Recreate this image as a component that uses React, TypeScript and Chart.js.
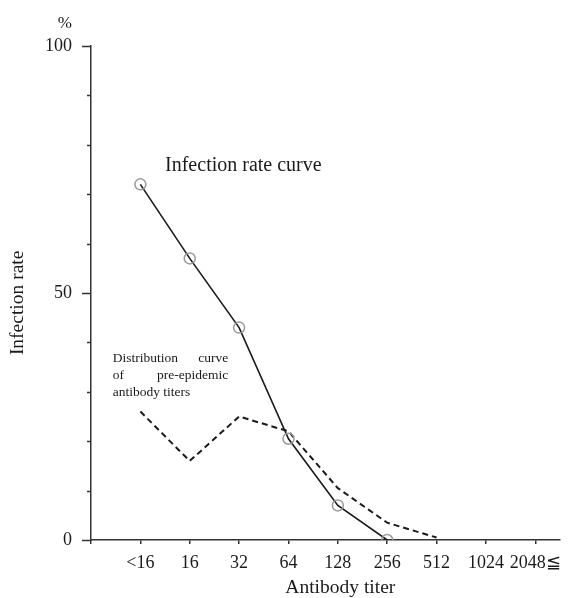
import React, { useEffect, useRef } from 'react';
import { Chart, registerables } from 'chart.js';

Chart.register(...registerables);

const titerLabels = ['<16', '16', '32', '64', '128', '256', '512', '1024', '2048≦'];
const infectionRate = [72, 57, 43, 20.5, 7, 0];
const distribution = [26, 16, 25, 22, 10.5, 3.5, 0.5];
const yLabelValues = [0, 50, 100];

const FONT = '"Liberation Serif", "Times New Roman", serif';
const INK = '#1a1a1a';
const AXIS = '#333333';

const textPlugin = {
  id: 'textPlugin',
  afterDraw(chart: any) {
    const ctx = chart.ctx;
    const xs = chart.scales.x;
    const ys = chart.scales.y;
    const X = (v: number) => xs.getPixelForValue(v);
    const Y = (v: number) => ys.getPixelForValue(v);
    ctx.save();
    // y minor/major ticks
    ctx.strokeStyle = AXIS;
    ctx.lineWidth = 1.5;
    for (let v = 0; v <= 100; v += 10) {
      const len = yLabelValues.includes(v) ? 9 : 4;
      const py = Math.round(Y(v)) + 0.5;
      ctx.beginPath();
      ctx.moveTo(xs.left - len, py);
      ctx.lineTo(xs.left, py);
      ctx.stroke();
    }
    ctx.fillStyle = INK;
    ctx.textBaseline = 'middle';
    // percent sign
    ctx.font = `17px ${FONT}`;
    ctx.textAlign = 'right';
    ctx.fillText('%', xs.left - 19, Y(100) - 22);
    // series annotations
    ctx.font = `20px ${FONT}`;
    ctx.textAlign = 'left';
    ctx.fillText('Infection rate curve', X(1.5), Y(75.7));
    ctx.font = `13.5px ${FONT}`;
    const l = X(0.44);
    const r = X(2.78);
    ctx.textAlign = 'left';
    ctx.fillText('Distribution', l, Y(36.8));
    ctx.fillText('of', l, Y(33.4));
    ctx.fillText('antibody titers', l, Y(29.8));
    ctx.textAlign = 'right';
    ctx.fillText('curve', r, Y(36.8));
    ctx.fillText('pre-epidemic', r, Y(33.4));
    // axis titles
    ctx.font = `19.5px ${FONT}`;
    ctx.textAlign = 'center';
    ctx.fillText('Antibody titer', X(5.05), ys.bottom + 48);
    ctx.save();
    ctx.translate(18, Y(48));
    ctx.rotate(-Math.PI / 2);
    ctx.fillText('Infection rate', 0, 0);
    ctx.restore();
    ctx.restore();
  },
};

export default function App() {
  const ref = useRef<HTMLCanvasElement | null>(null);
  useEffect(() => {
    if (!ref.current) return;
    const chart = new Chart(ref.current, {
      type: 'line',
      data: {
        datasets: [
          {
            label: 'Infection rate curve',
            data: infectionRate.map((v, i) => ({ x: i + 1, y: v })),
            borderColor: INK,
            borderWidth: 1.6,
            pointRadius: 5.5,
            pointBorderColor: '#9a9a9a',
            pointBackgroundColor: 'rgba(0,0,0,0)',
            pointBorderWidth: 1.5,
            tension: 0,
            order: 0,
          },
          {
            label: 'Distribution curve of pre-epidemic antibody titers',
            data: distribution.map((v, i) => ({ x: i + 1, y: v })),
            borderColor: INK,
            borderWidth: 2,
            borderDash: [6, 4],
            pointRadius: 0,
            tension: 0,
            order: 1,
          },
        ],
      },
      options: {
        responsive: false,
        animation: false,
        layout: { padding: { left: 0, top: 46, right: 15, bottom: 0 } },
        plugins: { legend: { display: false }, tooltip: { enabled: false } },
        scales: {
          x: {
            type: 'linear',
            min: 0,
            max: 9.5,
            afterFit: (s: any) => {
              s.height = 58;
            },
            border: { display: true, color: AXIS, width: 1.5 },
            grid: {
              display: true,
              drawOnChartArea: false,
              drawTicks: true,
              tickLength: 4,
              color: AXIS,
              lineWidth: 1.5,
            },
            ticks: {
              stepSize: 1,
              includeBounds: false,
              autoSkip: false,
              maxRotation: 0,
              padding: 8,
              color: INK,
              font: { family: FONT, size: 18 },
              callback: (v: any) => {
                const n = Number(v);
                return Number.isInteger(n) && n >= 1 ? titerLabels[n - 1] ?? '' : '';
              },
            },
          },
          y: {
            type: 'linear',
            min: 0,
            max: 100,
            afterFit: (s: any) => {
              s.width = 91;
            },
            border: { display: true, color: AXIS, width: 1.5 },
            grid: { display: false, drawTicks: false },
            ticks: {
              stepSize: 10,
              padding: 19,
              color: INK,
              font: { family: FONT, size: 18 },
              callback: (v: any) => (yLabelValues.includes(Number(v)) ? String(v) : ''),
            },
          },
        },
      },
      plugins: [textPlugin],
    });
    return () => chart.destroy();
  }, []);
  return (
    <div style={{ position: 'fixed', left: 0, top: 0, width: 575, height: 598, background: '#fff' }}>
      <canvas ref={ref} width={575} height={598} />
    </div>
  );
}
